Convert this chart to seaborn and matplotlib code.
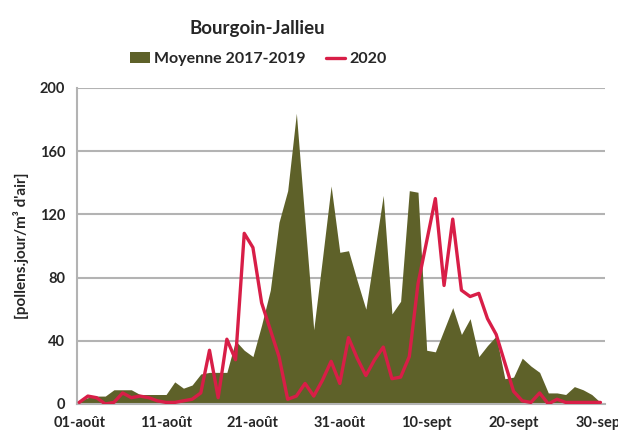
import matplotlib
matplotlib.use("Agg")
import matplotlib.pyplot as plt
from matplotlib.patches import Patch
from matplotlib.lines import Line2D
import numpy as np
import pandas as pd
import seaborn as sns

# Valeurs (01-août -> 30-sept, 61 jours)
moyenne_2017_2019 = [2, 4, 5, 5, 9, 9, 9, 6, 6, 6,
                     6, 14, 10, 12, 19, 20, 20, 20, 40, 34,
                     30, 50, 72, 115, 135, 184, 115, 47, 92, 138,
                     96, 97, 78, 60, 96, 132, 57, 65, 135, 134,
                     34, 33, 47, 61, 44, 54, 30, 37, 43, 16,
                     17, 29, 24, 20, 7, 7, 6, 11, 9, 6, 1]
annee_2020 = [1, 5, 4, 0, 1, 7, 4, 5, 4, 2,
              1, 1, 2, 3, 7, 34, 4, 41, 28, 108,
              99, 64, 47, 30, 3, 5, 13, 5, 15, 27,
              13, 42, 29, 18, 28, 36, 16, 17, 30, 76,
              103, 130, 75, 117, 72, 68, 70, 54, 44, 26,
              8, 2, 1, 7, 0, 3, 1, 1, 1, 1, 1]
tick_jours = [0, 10, 20, 30, 40, 50, 60]
tick_labels = ["01-août", "11-août", "21-août", "31-août", "10-sept", "20-sept", "30-sept"]

df = pd.DataFrame({"jour": np.arange(len(annee_2020)),
                   "moyenne": moyenne_2017_2019,
                   "a2020": annee_2020})

olive = "#5e6129"
rouge = "#d81e47"
gris = "#b3b3b3"

sns.set_style("white")
plt.rcParams["font.family"] = ["Lato", "DejaVu Sans"]
plt.rcParams["font.weight"] = "bold"

fig = plt.figure(figsize=(6.18, 4.42), dpi=100)
ax = fig.add_axes([0.1246, 0.086, 0.854, 0.715])

ax.fill_between(df["jour"], 0, df["moyenne"], color=olive, linewidth=0, zorder=2)
sns.lineplot(data=df, x="jour", y="a2020", color=rouge, linewidth=2.4, ax=ax, zorder=3)

ax.set_xlim(-0.25, 60.5)
ax.set_ylim(0, 200)
ax.set_yticks([0, 40, 80, 120, 160, 200])
ax.set_xticks(tick_jours)
ax.set_xticklabels(tick_labels)
ax.yaxis.grid(True, color=gris, linewidth=1.5, zorder=0)
ax.set_axisbelow(True)
for s in ["top", "right"]:
    ax.spines[s].set_visible(False)
for s in ["left", "bottom"]:
    ax.spines[s].set_color(gris)
    ax.spines[s].set_linewidth(1.5)
ax.tick_params(axis="both", which="both", length=5, width=1.2, color=gris,
               labelsize=10.5, direction="out")
ax.tick_params(axis="x", pad=4)
for lab in ax.get_xticklabels() + ax.get_yticklabels():
    lab.set_fontweight("bold")
ax.set_xlabel("")
ax.set_ylabel("[pollens.jour/m³ d'air]", fontsize=11, fontweight="bold", labelpad=8)

fig.text(0.416, 0.935, "Bourgoin-Jallieu", ha="center", va="center",
         fontsize=13.5, fontweight="bold")
handles = [Patch(facecolor=olive, edgecolor="none"),
           Line2D([0], [0], color=rouge, linewidth=2.4)]
fig.legend(handles, ["Moyenne 2017-2019", "2020"], loc="center",
           bbox_to_anchor=(0.418, 0.866), ncol=2, frameon=False,
           prop={"weight": "bold", "size": 11.5}, handlelength=1.2,
           handletextpad=0.25, columnspacing=1.3)

fig.savefig("out.png", dpi=100)
